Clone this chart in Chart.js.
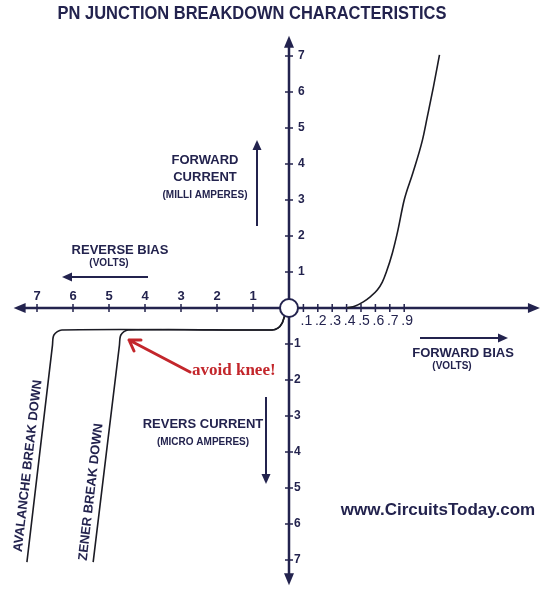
<!DOCTYPE html>
<html>
<head>
<meta charset="utf-8">
<title>PN Junction Breakdown Characteristics</title>
<script src="https://cdn.jsdelivr.net/npm/chart.js@4.4.1/dist/chart.umd.min.js"></script>
<style>
  html, body { margin: 0; padding: 0; background: #fff; }
  canvas { display: block; }
</style>
</head>
<body>
<canvas id="pnChart" width="557" height="600"></canvas>
<script>
// tick marks: reverse volts, forward volts, current (mA up / uA down)
var reverseTicks = [1, 2, 3, 4, 5, 6, 7];
var forwardTicks = [0.1, 0.2, 0.3, 0.4, 0.5, 0.6, 0.7, 0.8];
var forwardTickLabels = ['.1', '.2', '.3', '.4', '.5', '.6', '.7', '.9'];
var currentTicks = [1, 2, 3, 4, 5, 6, 7];

// forward bias curve (volts, milli amperes)
var forwardVolts = [0.404, 0.46, 0.516, 0.564, 0.613, 0.648, 0.676, 0.718, 0.753, 0.80, 0.86, 0.927, 0.96, 1.003, 1.045];
var forwardCurrent = [0, 0.056, 0.17, 0.31, 0.50, 0.72, 1.00, 1.53, 2.10, 3.00, 3.75, 4.67, 5.30, 6.14, 7.03];

// reverse curves (volts, micro amperes)
var zenerVolts = [0, 0.11, 0.19, 0.31, 0.47, 4.47, 4.67, 4.71, 5.44];
var zenerCurrent = [0, 0.19, 0.42, 0.56, 0.61, 0.61, 0.75, 1.03, 7.06];
var avalancheVolts = [0, 0.11, 0.19, 0.31, 0.47, 6.31, 6.53, 6.57, 7.28];
var avalancheCurrent = [0, 0.19, 0.42, 0.56, 0.61, 0.61, 0.75, 1.03, 7.06];

// forward side of the x axis is drawn 4x wider than the reverse side
var FWD_STRETCH = 4;
var NAVY = '#23234e';
var FONT = '"Liberation Sans", Arial, sans-serif';

function pts(xs, ys, sx, sy) {
    return xs.map(function(v, i) { return { x: v * sx, y: ys[i] * sy }; });
}

function arrowHead(ctx, x, y, dx, dy, len, half) {
    ctx.beginPath();
    ctx.moveTo(x, y);
    ctx.lineTo(x - dx * len - dy * half, y - dy * len + dx * half);
    ctx.lineTo(x - dx * len + dy * half, y - dy * len - dx * half);
    ctx.closePath();
    ctx.fill();
}

function arrow(ctx, x1, y1, x2, y2, w) {
    var d = Math.hypot(x2 - x1, y2 - y1), dx = (x2 - x1) / d, dy = (y2 - y1) / d;
    ctx.lineWidth = w;
    ctx.beginPath();
    ctx.moveTo(x1, y1);
    ctx.lineTo(x2 - dx * 6, y2 - dy * 6);
    ctx.stroke();
    arrowHead(ctx, x2, y2, dx, dy, 10, 4.5);
}

function text(ctx, str, x, y, font, maxW) {
    ctx.font = font;
    if (maxW) ctx.fillText(str, x, y, maxW); else ctx.fillText(str, x, y);
}

var diagram = {
    id: 'diagram',
    beforeDatasetsDraw: function(chart) {
        var ctx = chart.ctx, xs = chart.scales.x, ys = chart.scales.y;
        var ox = xs.getPixelForValue(0), oy = ys.getPixelForValue(0);
        var left = xs.getPixelForValue(-7.65), right = xs.getPixelForValue(6.97);
        var top = ys.getPixelForValue(7.56), bottom = ys.getPixelForValue(-7.7);
        ctx.save();
        ctx.strokeStyle = NAVY;
        ctx.fillStyle = NAVY;
        ctx.lineWidth = 2.5;
        ctx.beginPath();
        ctx.moveTo(left + 6, oy); ctx.lineTo(right - 6, oy);
        ctx.moveTo(ox, top + 6); ctx.lineTo(ox, bottom - 6);
        ctx.stroke();
        arrowHead(ctx, left, oy, -1, 0, 12, 5);
        arrowHead(ctx, right, oy, 1, 0, 12, 5);
        arrowHead(ctx, ox, top, 0, -1, 12, 5);
        arrowHead(ctx, ox, bottom, 0, 1, 12, 5);

        // ticks
        ctx.lineWidth = 1.5;
        ctx.beginPath();
        reverseTicks.forEach(function(v) {
            var px = xs.getPixelForValue(-v);
            ctx.moveTo(px, oy - 4); ctx.lineTo(px, oy + 4);
        });
        forwardTicks.forEach(function(v) {
            var px = xs.getPixelForValue(v * FWD_STRETCH);
            ctx.moveTo(px, oy - 4); ctx.lineTo(px, oy + 4);
        });
        currentTicks.forEach(function(v) {
            var a = ys.getPixelForValue(v), b = ys.getPixelForValue(-v);
            ctx.moveTo(ox - 4, a); ctx.lineTo(ox + 4, a);
            ctx.moveTo(ox - 4, b); ctx.lineTo(ox + 4, b);
        });
        ctx.stroke();

        // tick labels
        ctx.textAlign = 'center';
        ctx.textBaseline = 'middle';
        reverseTicks.forEach(function(v) {
            text(ctx, String(v), xs.getPixelForValue(-v), oy - 12, 'bold 13px ' + FONT);
        });
        forwardTicks.forEach(function(v, i) {
            text(ctx, forwardTickLabels[i], xs.getPixelForValue(v * FWD_STRETCH) + 3, oy + 13, '14px ' + FONT);
        });
        ctx.textAlign = 'left';
        currentTicks.forEach(function(v) {
            text(ctx, String(v), ox + 9, ys.getPixelForValue(v), 'bold 12px ' + FONT);
            text(ctx, String(v), ox + 5, ys.getPixelForValue(-v), 'bold 12px ' + FONT);
        });
        ctx.restore();
    },
    afterDatasetsDraw: function(chart) {
        var ctx = chart.ctx, xs = chart.scales.x, ys = chart.scales.y;
        var ox = xs.getPixelForValue(0), oy = ys.getPixelForValue(0);
        ctx.save();
        // origin circle
        ctx.beginPath();
        ctx.arc(ox, oy, 9, 0, Math.PI * 2);
        ctx.fillStyle = '#fff';
        ctx.fill();
        ctx.lineWidth = 2;
        ctx.strokeStyle = NAVY;
        ctx.stroke();

        ctx.fillStyle = NAVY;
        ctx.strokeStyle = NAVY;
        ctx.textAlign = 'center';
        ctx.textBaseline = 'middle';
        text(ctx, 'PN JUNCTION BREAKDOWN CHARACTERISTICS', 252, 14, 'bold 18px ' + FONT, 389);

        text(ctx, 'FORWARD', 205, 160, 'bold 13px ' + FONT);
        text(ctx, 'CURRENT', 205, 177, 'bold 13px ' + FONT);
        text(ctx, '(MILLI AMPERES)', 205, 195, 'bold 10px ' + FONT, 86);
        arrow(ctx, 257, 226, 257, 140, 2);

        text(ctx, 'REVERSE BIAS', 120, 250, 'bold 13px ' + FONT);
        text(ctx, '(VOLTS)', 109, 263, 'bold 10px ' + FONT);
        arrow(ctx, 148, 277, 62, 277, 2);

        arrow(ctx, 420, 338, 508, 338, 2);
        text(ctx, 'FORWARD BIAS', 463, 353, 'bold 13px ' + FONT);
        text(ctx, '(VOLTS)', 452, 366, 'bold 10px ' + FONT);

        text(ctx, 'REVERS CURRENT', 203, 424, 'bold 13px ' + FONT);
        text(ctx, '(MICRO AMPERES)', 203, 442, 'bold 10px ' + FONT, 94);
        arrow(ctx, 266, 397, 266, 484, 2);

        text(ctx, 'www.CircuitsToday.com', 438, 510, 'bold 17px ' + FONT, 200);

        // breakdown labels, parallel to their lines
        var tilt = -Math.PI / 2 + 0.115;
        ctx.save();
        ctx.translate(28, 466); ctx.rotate(tilt);
        text(ctx, 'AVALANCHE BREAK DOWN', 0, 0, 'bold 13px ' + FONT, 173);
        ctx.restore();
        ctx.save();
        ctx.translate(91, 492); ctx.rotate(tilt);
        text(ctx, 'ZENER BREAK DOWN', 0, 0, 'bold 13px ' + FONT, 138);
        ctx.restore();

        // knee note
        var RED = '#c3262b';
        ctx.fillStyle = RED;
        ctx.strokeStyle = RED;
        ctx.lineCap = 'round';
        ctx.lineWidth = 3;
        ctx.beginPath();
        ctx.moveTo(190, 372); ctx.lineTo(129, 340);
        ctx.moveTo(129, 340); ctx.lineTo(141, 340);
        ctx.moveTo(129, 340); ctx.lineTo(134, 351);
        ctx.stroke();
        ctx.textAlign = 'left';
        ctx.textBaseline = 'alphabetic';
        text(ctx, 'avoid knee!', 192, 375, 'bold 17px "Liberation Serif", "Times New Roman", serif', 86);
        ctx.restore();
    }
};

var lineStyle = {
    showLine: true,
    borderColor: '#1b1b24',
    borderWidth: 1.6,
    pointRadius: 0,
    tension: 0.3,
    fill: false
};

new Chart(document.getElementById('pnChart'), {
    type: 'scatter',
    data: {
        datasets: [
            Object.assign({ label: 'Forward', data: pts(forwardVolts, forwardCurrent, FWD_STRETCH, 1) }, lineStyle,
                { cubicInterpolationMode: 'monotone' }),
            Object.assign({ label: 'Zener', data: pts(zenerVolts, zenerCurrent, -1, -1) }, lineStyle),
            Object.assign({ label: 'Avalanche', data: pts(avalancheVolts, avalancheCurrent, -1, -1) }, lineStyle)
        ]
    },
    options: {
        responsive: false,
        animation: false,
        devicePixelRatio: 1,
        layout: { padding: 0 },
        plugins: { legend: { display: false }, tooltip: { enabled: false }, title: { display: false } },
        scales: {
            x: { type: 'linear', display: false, min: -289 / 36, max: (557 - 289) / 36 },
            y: { type: 'linear', display: false, min: -(600 - 308) / 36, max: 308 / 36 }
        }
    },
    plugins: [diagram]
});
</script>
</body>
</html>
